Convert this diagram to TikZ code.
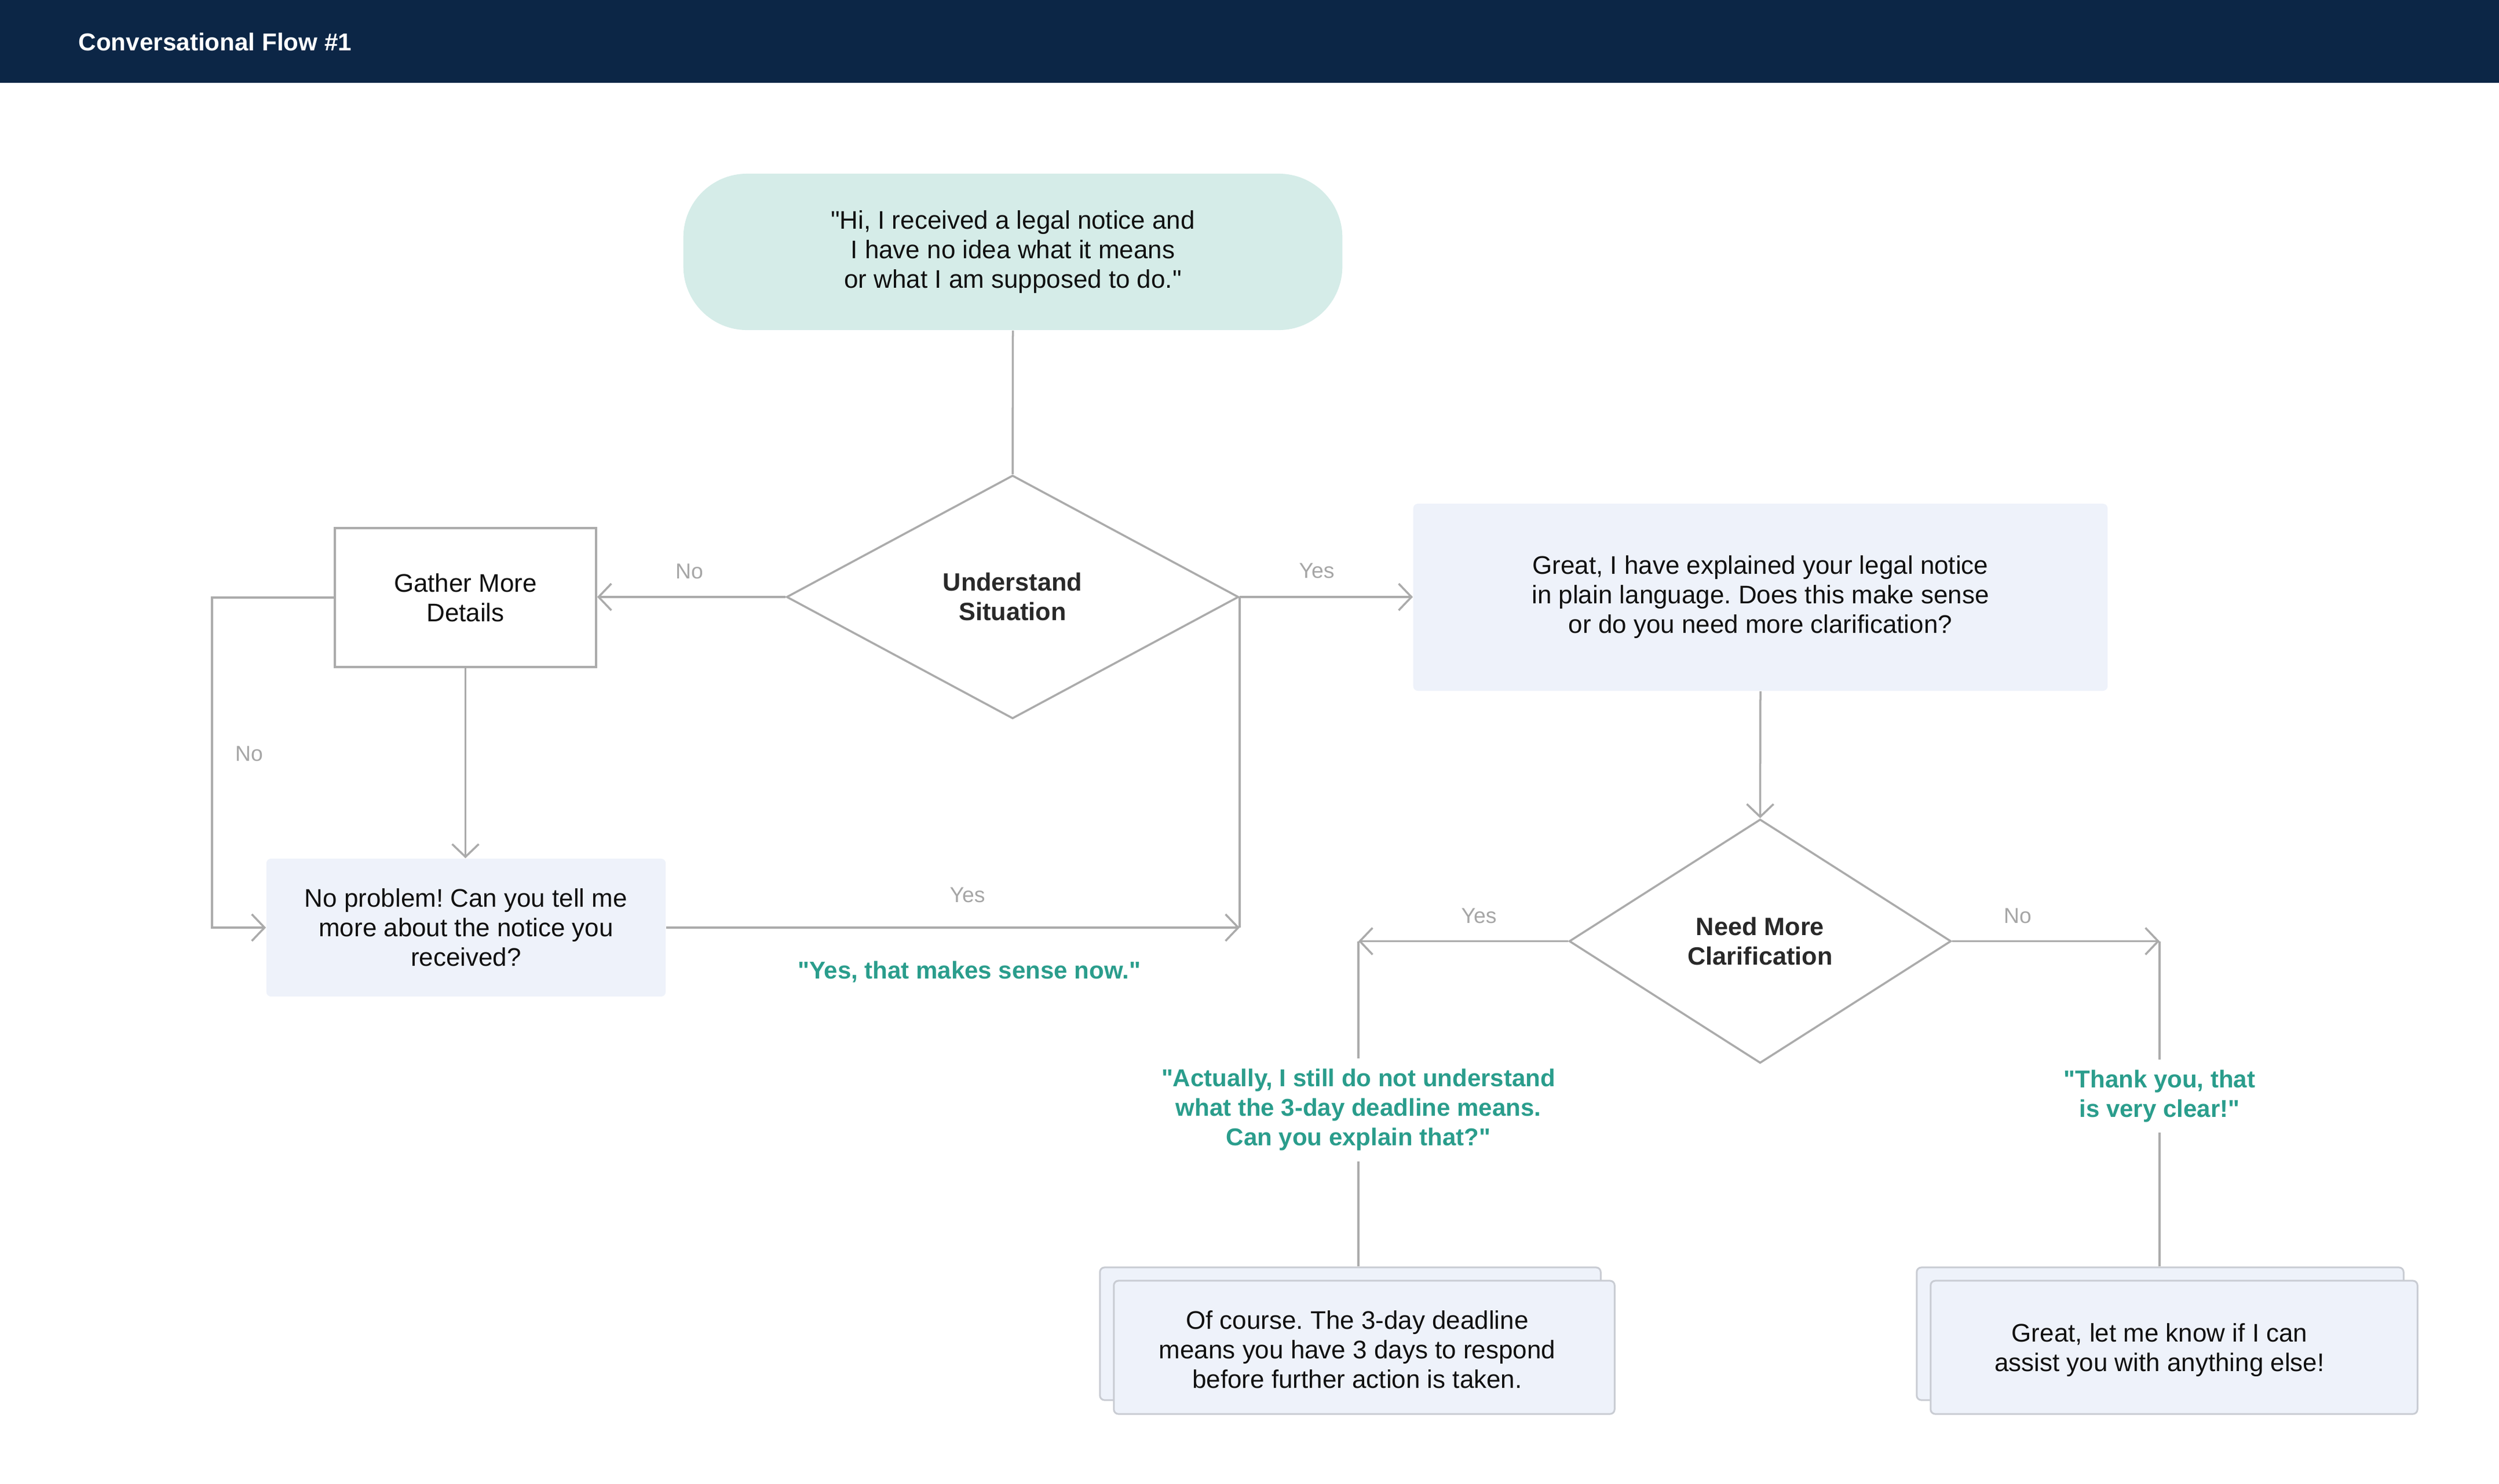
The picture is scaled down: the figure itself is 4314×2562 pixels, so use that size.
\documentclass[tikz,border=0pt]{standalone}
\usepackage{fontspec}
\newfontfamily\libsans{Liberation Sans}
\setmainfont{Liberation Sans}
\usetikzlibrary{shapes.geometric,arrows.meta}
\definecolor{cnavy}{HTML}{0C2646}
\definecolor{cstart}{HTML}{D5ECE8}
\definecolor{cbox}{HTML}{EEF2FA}
\definecolor{cline}{HTML}{ABABAB}
\definecolor{clabel}{HTML}{A6A6A6}
\definecolor{cgreen}{HTML}{2A9D8C}
\definecolor{cborder}{HTML}{C9CCD3}
\definecolor{ctext}{HTML}{111111}
\frenchspacing
\tikzset{
  conn/.style={draw=cline, line width=0.035cm},
  arr/.style={conn, -{Straight Barb[length=0.22cm,width=0.46cm]}},
  body/.style={font=\libsans\frenchspacing\fontsize{12.5pt}{14.5pt}\selectfont, text=ctext, align=center},
  boldtxt/.style={font=\libsans\bfseries\fontsize{12.3pt}{14.5pt}\selectfont, text=ctext!90!white, align=center},
  hdrbox/.style={fill=cnavy, draw=none, inner sep=0pt, minimum width=43.14cm, minimum height=1.43cm},
  titletxt/.style={font=\libsans\bfseries\fontsize{12pt}{14.5pt}\selectfont, text=white, anchor=west, inner sep=0pt},
  startbox/.style={body, fill=cstart, draw=none, rounded corners=1.1cm, inner sep=0pt},
  dia/.style={boldtxt, diamond, draw=cline, line width=0.035cm, fill=white, inner sep=0pt},
  gbox/.style={body, rectangle, draw=cline, line width=0.035cm, fill=white, inner sep=0pt},
  lbox/.style={body, rectangle, fill=cbox, draw=none, rounded corners=0.08cm, inner sep=0pt},
  sbox/.style={rectangle, fill=cbox, draw=cborder, line width=0.03cm, rounded corners=0.08cm, inner sep=0pt},
  lab/.style={font=\libsans\fontsize{10.6pt}{12pt}\selectfont, text=clabel, inner sep=0pt},
  quote/.style={font=\libsans\frenchspacing\bfseries\fontsize{11.95pt}{14.5pt}\selectfont, text=cgreen, align=center, inner xsep=0.1cm, inner ysep=0.18cm},
}
\begin{document}
\begin{tikzpicture}[x=0.01cm, y=-0.01cm]
\useasboundingbox (0,0) rectangle (4314,2562);
% header
\node[hdrbox] (hdr) at (2157,71.5) {};
\node[titletxt] (title) at (135,72) {Conversational Flow \#1};
% nodes
\node[startbox, minimum width=11.37cm, minimum height=2.70cm] (start) at (1748.5,435)
  {"Hi, I received a legal notice and\\I have no idea what it means\\or what I am supposed to do."};
\node[dia, minimum width=7.80cm, minimum height=4.20cm] (d1) at (1748,1031) {Understand\\Situation};
\node[gbox, minimum width=4.51cm, minimum height=2.40cm] (gather) at (803.5,1032) {Gather More\\Details};
\node[lbox, minimum width=6.89cm, minimum height=2.38cm] (np) at (804.5,1602)
  {No problem! Can you tell me\\more about the notice you\\received?};
\node[lbox, minimum width=11.98cm, minimum height=3.23cm] (great) at (3039,1031.5)
  {Great, I have explained your legal notice\\in plain language. Does this make sense\\or do you need more clarification?};
\node[dia, minimum width=6.59cm, minimum height=4.21cm] (d2) at (3038.5,1625.5) {Need More\\Clarification};
% stacked boxes
\node[sbox, minimum width=8.64cm, minimum height=2.29cm] (bl) at (2331,2303.5) {};
\node[sbox, minimum width=8.64cm, minimum height=2.30cm] (fl) at (2355,2327) {};
\node[body] (tl) at (2343,2331) {Of course. The 3-day deadline\\means you have 3 days to respond\\before further action is taken.};
\node[sbox, minimum width=8.40cm, minimum height=2.29cm] (br) at (3729,2303.5) {};
\node[sbox, minimum width=8.40cm, minimum height=2.30cm] (fr) at (3753,2327) {};
\node[body] (tr) at (3728,2332) {Great, let me know if I can\\assist you with anything else!};
% corner coordinates
\coordinate (lc) at (366,1602);
\coordinate (c1) at (d1.east |- np.east);
\coordinate (c2) at (2345,1625.5);
\coordinate (c3) at (3728,1625.5);
% connectors
\draw[conn] (start.south) -- (d1.north);
\draw[arr] (d1.west) -- (d1.west -| gather.east);
\draw[arr] (gather.south) -- (gather.south |- np.north);
\draw[arr] (gather.west) -| (lc) -- (np.west);
\draw[arr] (np.east) -- (c1);
\draw[conn] (c1) -- (d1.east);
\draw[arr] (d1.east) -- (d1.east -| great.west);
\draw[arr] (great.south) -- (d2.north);
\draw[arr] (d2.west) -- (c2);
\draw[conn] (c2) -- (c2 |- bl.north);
\draw[arr] (d2.east) -- (c3);
\draw[conn] (c3) -- (c3 |- br.north);
% labels
\node[lab] (lno1) at (1190,987) {No};
\node[lab] (lyes1) at (2273,986) {Yes};
\node[lab] (lno2) at (430,1302) {No};
\node[lab] (lyes2) at (1670,1546) {Yes};
\node[lab] (lyes3) at (2553,1582) {Yes};
\node[lab] (lno3) at (3483,1582) {No};
\node[quote] (q0) at (1673,1678) {"Yes, that makes sense now."};
\node[quote, fill=white] (q1) at (2345,1917) {"Actually, I still do not understand\\what the 3-day deadline means.\\Can you explain that?"};
\node[quote, fill=white] (q2) at (3728,1893) {"Thank you, that\\is very clear!"};
\end{tikzpicture}
\end{document}
